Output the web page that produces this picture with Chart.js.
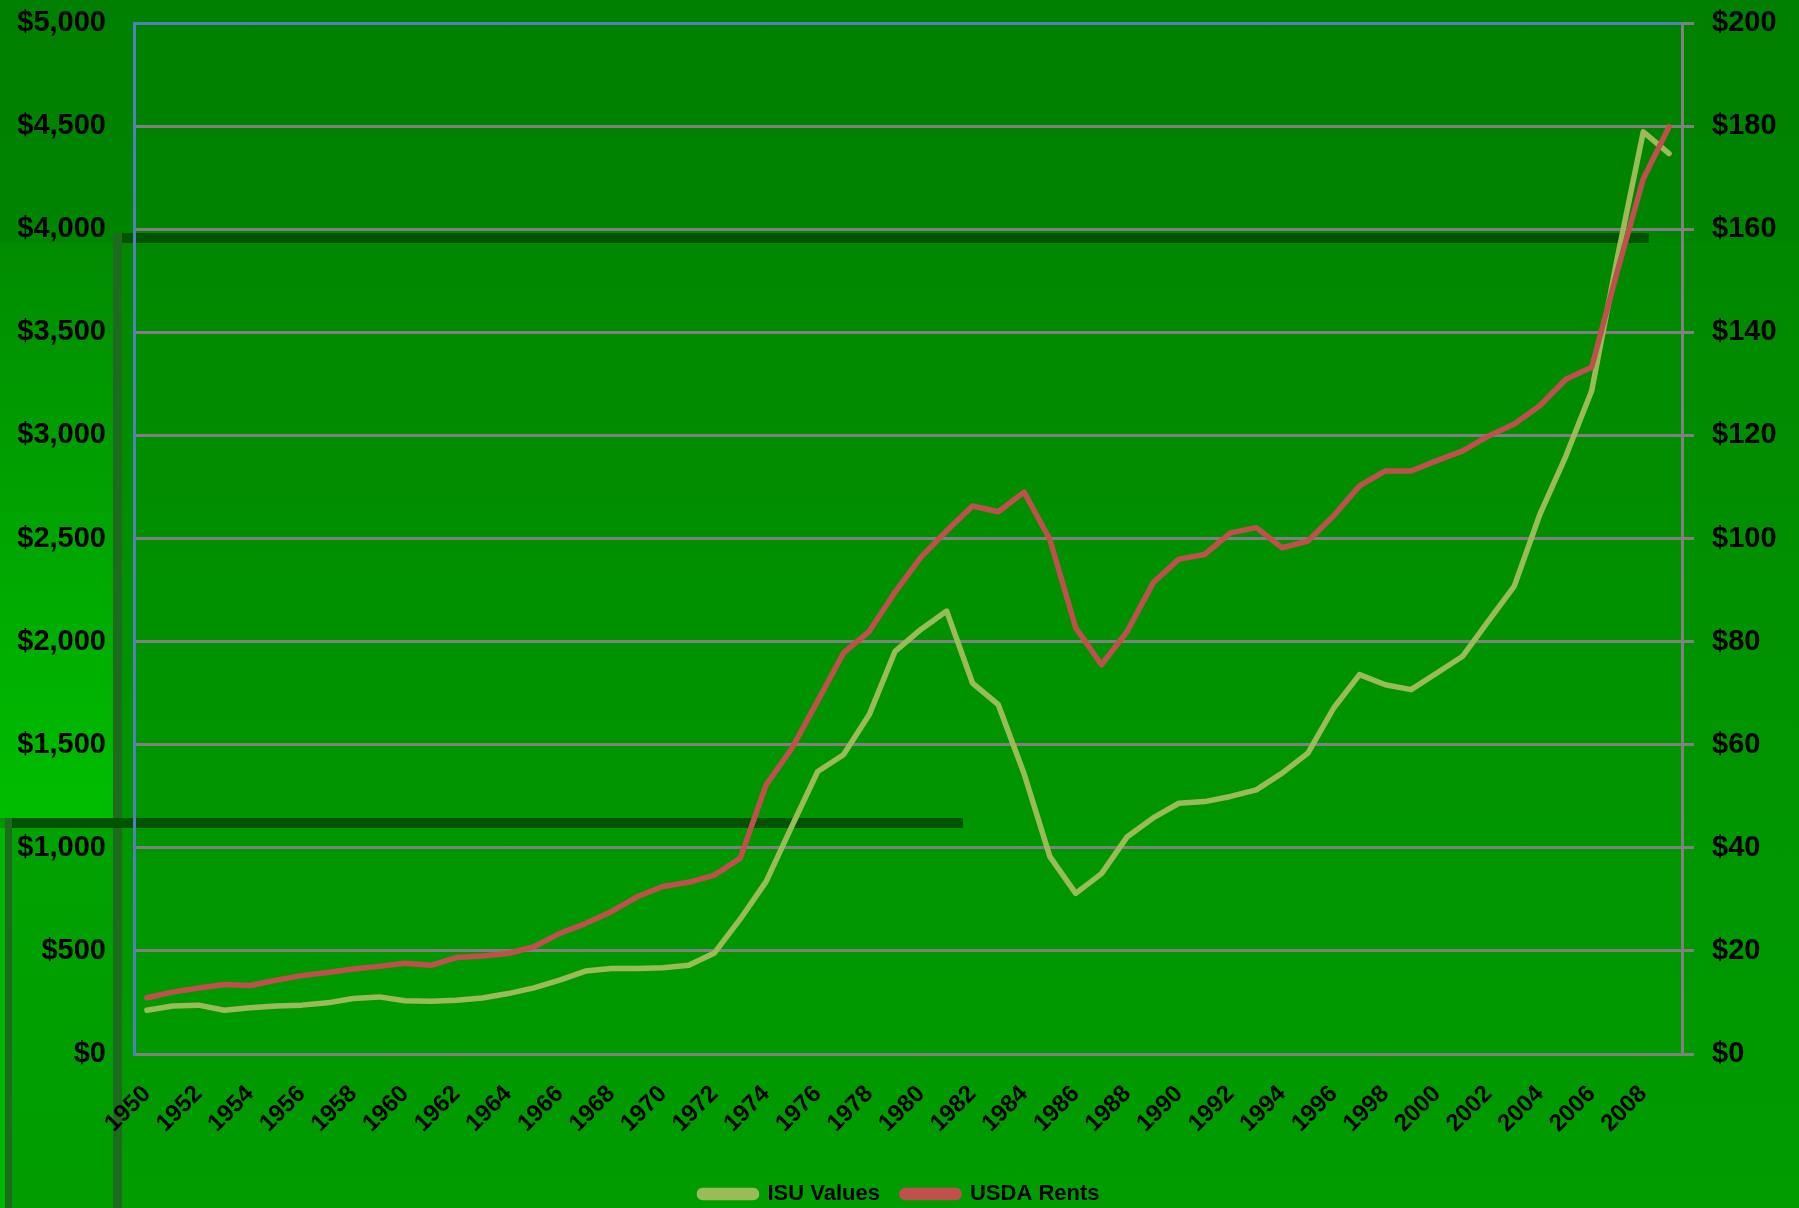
<!DOCTYPE html>
<html>
<head>
<meta charset="utf-8">
<title>ISU Values vs USDA Rents</title>
<script src="https://cdn.jsdelivr.net/npm/chart.js@4.4.1/dist/chart.umd.min.js"></script>
<style>
  html, body { margin: 0; padding: 0; }
  body {
    width: 1799px; height: 1208px; position: relative; overflow: hidden;
    background: linear-gradient(to bottom, #008000 0%, #008500 20%, #009400 60%, #009e00 100%);
  }
  .deco { position: absolute; }
  #chartWrap { position: absolute; left: 0; top: 0; width: 1799px; height: 1208px; }
</style>
</head>
<body>
<!-- background panels of the slide -->
<div class="deco" style="left:0;top:243px;width:114px;height:575px;background:linear-gradient(to bottom,#008c00,#00bd00);"></div>
<div class="deco" style="left:0;top:828px;width:6px;height:380px;background:#00b800;"></div>
<div class="deco" style="left:12px;top:828px;width:101px;height:380px;background:linear-gradient(to bottom,#00a200,#009c00);"></div>
<div class="deco" style="left:122px;top:243px;width:1677px;height:965px;background:linear-gradient(to bottom,#008800,#009400 50%,#009c00);"></div>
<div class="deco" style="left:113px;top:233px;width:1536px;height:10px;background:#005400;"></div>
<div class="deco" style="left:113px;top:233px;width:9px;height:975px;background:#1d6b1d;"></div>
<div class="deco" style="left:5px;top:818px;width:958px;height:10px;background:#005400;"></div>
<div class="deco" style="left:5px;top:818px;width:7px;height:390px;background:#1d6b1d;"></div>

<div id="chartWrap"><canvas id="landChart" width="1799" height="1208"></canvas></div>

<script>
// years on the category axis
var years = [];
for (var y = 1950; y <= 2009; y++) { years.push(String(y)); }

// ISU land values, $ per acre (left axis)
var isuValues = [212, 233, 237, 212, 224, 233, 237, 248, 269, 277,
                 258, 256, 261, 272, 293, 321, 358, 402, 415, 415,
                 418, 430, 490, 655, 836, 1105, 1370, 1451, 1646, 1953,
                 2059, 2148, 1799, 1694, 1359, 957, 779, 875, 1054, 1145,
                 1216, 1224, 1249, 1281, 1362, 1459, 1678, 1840, 1791, 1767,
                 1848, 1929, 2100, 2269, 2620, 2900, 3217, 3865, 4472, 4367];

// USDA cash rents, $ per acre (right axis)
var usdaRents = [10.9, 12.0, 12.8, 13.5, 13.3, 14.3, 15.2, 15.8, 16.5, 17.0,
                 17.6, 17.2, 18.7, 19.0, 19.5, 20.8, 23.4, 25.3, 27.6, 30.5,
                 32.5, 33.3, 34.7, 38.0, 52.2, 59.3, 68.5, 77.8, 82.0, 89.6,
                 96.4, 101.5, 106.3, 105.2, 109.0, 99.8, 82.7, 75.5, 82.0, 91.4,
                 96.0, 96.9, 101.1, 102.1, 98.2, 99.5, 104.4, 110.2, 113.1, 113.1,
                 115.1, 117.0, 119.9, 122.2, 125.8, 130.9, 133.2, 152.0, 169.8, 179.9];

// axis ranges
var leftMax = 5000, leftStep = 500;
var rightMax = 200, rightStep = 20;

function dollars(v) {
    return '$' + Number(v).toLocaleString('en-US');
}

var tickFont = { family: "'Liberation Sans', Arial, sans-serif", size: 29, weight: 'bold' };

new Chart(document.getElementById('landChart'), {
    type: 'line',
    data: {
        labels: years,
        datasets: [{
            label: 'ISU Values',
            data: isuValues,
            yAxisID: 'y',
            borderColor: '#9bbb59',
            backgroundColor: '#9bbb59',
            borderWidth: 5.5,
            borderCapStyle: 'round',
            borderJoinStyle: 'round',
            pointRadius: 0,
            tension: 0,
            fill: false,
            order: 1
        }, {
            label: 'USDA Rents',
            data: usdaRents,
            yAxisID: 'y1',
            borderColor: '#c0504d',
            backgroundColor: '#c0504d',
            borderWidth: 5.5,
            borderCapStyle: 'round',
            borderJoinStyle: 'round',
            pointRadius: 0,
            tension: 0,
            fill: false,
            order: 0
        }]
    },
    options: {
        responsive: false,
        animation: false,
        devicePixelRatio: 1,
        layout: { padding: { top: 23, left: 0, right: 0, bottom: -7 } },
        plugins: {
            tooltip: { enabled: false },
            legend: {
                position: 'bottom',
                labels: {
                    boxWidth: 57,
                    boxHeight: 7,
                    useBorderRadius: true,
                    borderRadius: 3,
                    padding: 22,
                    color: '#000',
                    font: { family: "'Liberation Sans Narrow', 'Liberation Sans', sans-serif", size: 22, weight: 'bold' },
                    sort: function (a, b) { return a.datasetIndex - b.datasetIndex; }
                }
            }
        },
        scales: {
            x: {
                type: 'category',
                offset: true,
                grid: { display: false },
                border: { display: true, color: '#808080', width: 3 },
                ticks: {
                    color: '#000',
                    font: { family: "'Liberation Sans', Arial, sans-serif", size: 24, weight: 'bold' },
                    autoSkip: false,
                    maxRotation: 45,
                    minRotation: 45,
                    padding: 18,
                    callback: function (value, index) {
                        return index % 2 === 0 ? years[index] : '';
                    }
                },
                afterFit: function (scale) { scale.height = 107; }
            },
            y: {
                position: 'left',
                min: 0,
                max: leftMax,
                grid: {
                    drawTicks: false,
                    lineWidth: 3,
                    color: function (ctx) {
                        return ctx.tick && ctx.tick.value === leftMax ? '#4f81bd' : '#808080';
                    }
                },
                border: { display: true, color: '#4f81bd', width: 3 },
                ticks: {
                    stepSize: leftStep,
                    color: '#000',
                    font: tickFont,
                    padding: 28,
                    callback: function (v) { return dollars(v); }
                },
                afterFit: function (scale) {
                    scale.width = 134;
                    scale.paddingTop = 0;
                    scale.paddingBottom = 0;
                }
            },
            y1: {
                position: 'right',
                min: 0,
                max: rightMax,
                grid: {
                    drawOnChartArea: false,
                    drawTicks: true,
                    tickLength: 12,
                    lineWidth: 3,
                    color: '#808080'
                },
                border: { display: true, color: '#808080', width: 3 },
                ticks: {
                    stepSize: rightStep,
                    color: '#000',
                    font: tickFont,
                    padding: 18,
                    callback: function (v) { return dollars(v); }
                },
                afterFit: function (scale) {
                    scale.width = 117;
                    scale.paddingTop = 0;
                    scale.paddingBottom = 0;
                }
            }
        }
    }
});
</script>
</body>
</html>
